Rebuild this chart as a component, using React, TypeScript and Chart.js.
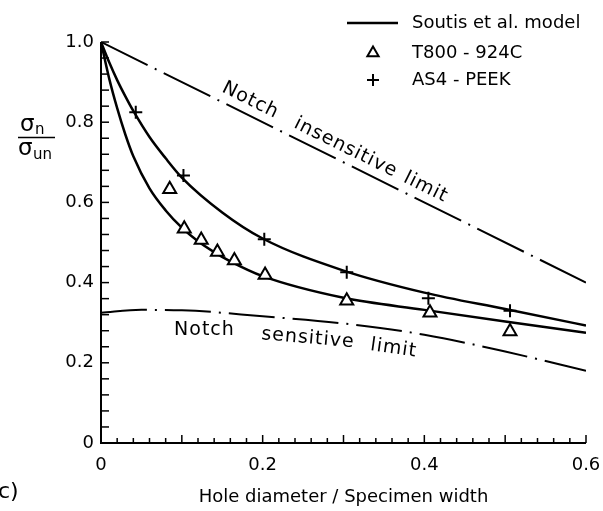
import React, { useEffect, useRef } from "react";
import { Chart, registerables } from "chart.js";
Chart.register(...registerables);

// ---- data ----
const xTickValues = [0, 0.2, 0.4, 0.6];
const yTickValues = [0, 0.2, 0.4, 0.6, 0.8, 1.0];

const modelAs4X = [0, 0.01, 0.02, 0.03, 0.04, 0.06, 0.08, 0.1, 0.15, 0.2, 0.3, 0.4, 0.5, 0.6];
const modelAs4Y = [1.0, 0.95, 0.905, 0.865, 0.828, 0.763, 0.71, 0.662, 0.575, 0.51, 0.43, 0.375, 0.334, 0.293];

const modelT800X = [0, 0.01, 0.02, 0.03, 0.04, 0.06, 0.08, 0.1, 0.12, 0.14, 0.16, 0.2, 0.3, 0.4, 0.5, 0.6];
const modelT800Y = [1.0, 0.91, 0.835, 0.77, 0.715, 0.635, 0.58, 0.537, 0.503, 0.476, 0.453, 0.416, 0.362, 0.332, 0.303, 0.275];

const t800X = [0.085, 0.103, 0.124, 0.144, 0.165, 0.203, 0.304, 0.407, 0.506];
const t800Y = [0.633, 0.534, 0.506, 0.476, 0.455, 0.419, 0.355, 0.325, 0.278];

const as4X = [0.043, 0.102, 0.202, 0.304, 0.405, 0.506];
const as4Y = [0.825, 0.667, 0.508, 0.426, 0.361, 0.33];

const insensX = [0, 0.6];
const insensY = [1.0, 0.4];

const sensX = [0, 0.05, 0.1, 0.2, 0.3, 0.4, 0.5, 0.6];
const sensY = [0.325, 0.332, 0.331, 0.316, 0.298, 0.27, 0.228, 0.18];

const legendLabels = ["Soutis et al. model", "T800 - 924C", "AS4 - PEEK"];
const xTitle = "Hole diameter / Specimen width";
const panelLabel = "c)";
const insensWords = ["Notch", "insensitive", "limit"];
const insensWordX = [0.177, 0.295, 0.394];
const sensWords = ["Notch", "sensitive", "limit"];
const sensWordX = [0.128, 0.256, 0.362];
const sensWordAngle = [0, 5, 8];

const FONT = '"DejaVu Sans", sans-serif';

const pts = (xs: number[], ys: number[]) => xs.map((x, i) => ({ x, y: ys[i] }));

const overlay = {
  id: "overlay",
  afterDraw(chart: any) {
    const ctx: CanvasRenderingContext2D = chart.ctx;
    const xs = chart.scales.x;
    const ys = chart.scales.y;
    const { left, right, top, bottom } = chart.chartArea;
    ctx.save();
    ctx.strokeStyle = "#000";
    ctx.fillStyle = "#000";
    ctx.lineCap = "butt";

    // axes
    ctx.lineWidth = 2;
    ctx.beginPath();
    ctx.moveTo(left, top);
    ctx.lineTo(left, bottom);
    ctx.lineTo(right, bottom);
    ctx.stroke();

    // inward ticks
    ctx.lineWidth = 1.5;
    for (let i = 0; i <= 30; i++) {
      const px = xs.getPixelForValue(i * 0.02);
      const len = i % 5 === 0 ? 8 : 5;
      ctx.beginPath();
      ctx.moveTo(px, bottom);
      ctx.lineTo(px, bottom - len);
      ctx.stroke();
    }
    for (let i = 0; i <= 25; i++) {
      const py = ys.getPixelForValue(i * 0.04);
      ctx.beginPath();
      ctx.moveTo(left, py);
      ctx.lineTo(left + 8, py);
      ctx.stroke();
    }

    // text along notch insensitive limit
    const p0x = xs.getPixelForValue(insensX[0]);
    const p0y = ys.getPixelForValue(insensY[0]);
    const p1x = xs.getPixelForValue(insensX[1]);
    const p1y = ys.getPixelForValue(insensY[1]);
    const ang = Math.atan2(p1y - p0y, p1x - p0x);
    ctx.font = `19px ${FONT}`;
    (ctx as any).letterSpacing = "1px";
    ctx.textAlign = "center";
    ctx.textBaseline = "middle";
    insensWords.forEach((w, i) => {
      const px = xs.getPixelForValue(insensWordX[i]);
      const t = (px - p0x) / (p1x - p0x);
      const py = p0y + t * (p1y - p0y);
      const d = 14;
      const cx = px + Math.sin(ang) * d;
      const cy = py - Math.cos(ang) * d;
      ctx.save();
      ctx.translate(cx, cy);
      ctx.rotate(ang);
      ctx.fillText(w, 0, 0);
      ctx.restore();
    });

    // text under notch sensitive limit
    sensWords.forEach((w, i) => {
      const vx = sensWordX[i];
      let vy = sensY[0];
      for (let k = 0; k < sensX.length - 1; k++) {
        if (vx >= sensX[k] && vx <= sensX[k + 1]) {
          const f = (vx - sensX[k]) / (sensX[k + 1] - sensX[k]);
          vy = sensY[k] + f * (sensY[k + 1] - sensY[k]);
        }
      }
      const px = xs.getPixelForValue(vx);
      const py = ys.getPixelForValue(vy) + 18;
      ctx.save();
      ctx.translate(px, py);
      ctx.rotate((sensWordAngle[i] * Math.PI) / 180);
      ctx.fillText(w, 0, 0);
      ctx.restore();
    });
    (ctx as any).letterSpacing = "0px";

    // legend
    ctx.font = `18px ${FONT}`;
    ctx.textAlign = "left";
    ctx.textBaseline = "middle";
    ctx.lineWidth = 2.5;
    ctx.beginPath();
    ctx.moveTo(347, 23);
    ctx.lineTo(398, 23);
    ctx.stroke();
    ctx.fillText(legendLabels[0], 412, 23);
    // triangle
    ctx.lineWidth = 2;
    const r = 6.5;
    ctx.beginPath();
    ctx.moveTo(373, 53 - r);
    ctx.lineTo(373 + r * Math.sin(Math.PI / 3), 53 + r / 2);
    ctx.lineTo(373 - r * Math.sin(Math.PI / 3), 53 + r / 2);
    ctx.closePath();
    ctx.stroke();
    ctx.fillText(legendLabels[1], 412, 53);
    // plus
    ctx.beginPath();
    ctx.moveTo(367, 80);
    ctx.lineTo(379, 80);
    ctx.moveTo(373, 74);
    ctx.lineTo(373, 86);
    ctx.stroke();
    ctx.fillText(legendLabels[2], 412, 80);

    // y-axis title: sigma_n / sigma_un
    ctx.textBaseline = "alphabetic";
    ctx.font = `23px ${FONT}`;
    ctx.fillText("σ", 20, 131);
    ctx.font = `15px ${FONT}`;
    ctx.fillText("n", 35, 134);
    ctx.lineWidth = 1.5;
    ctx.beginPath();
    ctx.moveTo(18, 137.5);
    ctx.lineTo(55, 137.5);
    ctx.stroke();
    ctx.font = `23px ${FONT}`;
    ctx.fillText("σ", 18, 155);
    ctx.font = `15px ${FONT}`;
    ctx.fillText("un", 33, 159);

    // panel label
    ctx.font = `22px ${FONT}`;
    ctx.fillText(panelLabel, -2, 498);

    ctx.restore();
  },
};

export default function App() {
  const ref = useRef<HTMLCanvasElement | null>(null);
  useEffect(() => {
    document.body.style.margin = "0";
    const canvas = ref.current!;
    const lineBase = {
      showLine: true,
      pointRadius: 0,
      borderColor: "#000",
      fill: false,
    };
    const chart = new Chart(canvas, {
      type: "scatter",
      data: {
        datasets: [
          {
            label: legendLabels[2],
            data: pts(as4X, as4Y),
            pointStyle: "cross",
            pointRadius: 6.5,
            pointBorderWidth: 2,
            borderColor: "#000",
            backgroundColor: "#000",
            showLine: false,
          },
          {
            label: legendLabels[1],
            data: pts(t800X, t800Y),
            pointStyle: "triangle",
            pointRadius: 7.5,
            pointBorderWidth: 2,
            borderColor: "#000",
            backgroundColor: "#fff",
            showLine: false,
          },
          {
            ...lineBase,
            label: legendLabels[0] + " AS4",
            data: pts(modelAs4X, modelAs4Y),
            borderWidth: 2.5,
            cubicInterpolationMode: "monotone",
          },
          {
            ...lineBase,
            label: legendLabels[0] + " T800",
            data: pts(modelT800X, modelT800Y),
            borderWidth: 2.5,
            cubicInterpolationMode: "monotone",
          },
          {
            ...lineBase,
            label: "Notch insensitive limit",
            data: pts(insensX, insensY),
            borderWidth: 2,
            borderDash: [52, 8, 2, 8],
          },
          {
            ...lineBase,
            label: "Notch sensitive limit",
            data: pts(sensX, sensY),
            borderWidth: 2,
            borderDash: [46, 8, 2, 8],
            cubicInterpolationMode: "monotone",
          },
        ] as any,
      },
      options: {
        responsive: false,
        animation: false,
        devicePixelRatio: 1,
        layout: { padding: { left: 0, right: 17, top: 42, bottom: 0 } },
        plugins: { legend: { display: false }, tooltip: { enabled: false } },
        scales: {
          x: {
            type: "linear",
            min: 0,
            max: 0.6,
            afterFit: (s: any) => {
              s.height = 68;
              s.paddingLeft = 0;
              s.paddingRight = 0;
            },
            grid: { display: false, drawTicks: false },
            border: { display: false },
            ticks: {
              stepSize: 0.2,
              padding: 12,
              color: "#000",
              font: { family: FONT, size: 18 },
              maxRotation: 0,
              callback: (v: any) => (Number(v) === 0 ? "0" : Number(v).toFixed(1)),
            },
            afterBuildTicks: (s: any) => {
              s.ticks = xTickValues.map((v) => ({ value: v }));
            },
            title: {
              display: true,
              text: xTitle,
              color: "#000",
              font: { family: FONT, size: 18 },
              padding: { top: 0, bottom: 3 },
            },
          },
          y: {
            type: "linear",
            min: 0,
            max: 1,
            afterFit: (s: any) => {
              s.width = 101;
              s.paddingTop = 0;
              s.paddingBottom = 0;
            },
            grid: { display: false, drawTicks: false },
            border: { display: false },
            ticks: {
              stepSize: 0.2,
              padding: 7,
              color: "#000",
              font: { family: FONT, size: 18 },
              callback: (v: any) => (Number(v) === 0 ? "0" : Number(v).toFixed(1)),
            },
            afterBuildTicks: (s: any) => {
              s.ticks = yTickValues.map((v) => ({ value: v }));
            },
          },
        },
      },
      plugins: [overlay],
    });
    return () => chart.destroy();
  }, []);
  return (
    <div style={{ width: 603, height: 511, background: "#fff" }}>
      <canvas ref={ref} width={603} height={511} />
    </div>
  );
}
